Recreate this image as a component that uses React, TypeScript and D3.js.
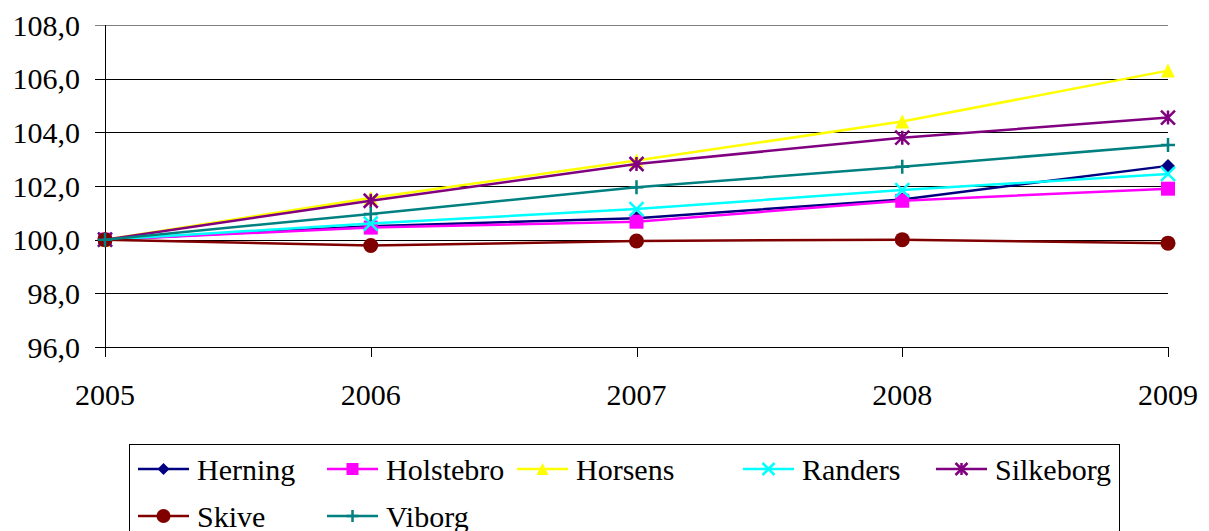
import React, { useEffect, useRef } from 'react';
import * as d3 from 'd3';

const years = ['2005', '2006', '2007', '2008', '2009'];
const herning = [100.0, 100.5, 100.8, 101.5, 102.75];
const holstebro = [100.0, 100.45, 100.67, 101.45, 101.9];
const horsens = [100.0, 101.55, 102.95, 104.4, 106.3];
const randers = [100.0, 100.6, 101.14, 101.85, 102.45];
const silkeborg = [100.0, 101.45, 102.82, 103.8, 104.55];
const skive = [100.0, 99.78, 99.95, 100.0, 99.87];
const viborg = [100.0, 100.96, 101.95, 102.72, 103.53];
const yTicks = [96, 98, 100, 102, 104, 106, 108];

const series = [
  { name: 'Herning', values: herning, color: '#000080', marker: 'diamond' },
  { name: 'Holstebro', values: holstebro, color: '#FF00FF', marker: 'square' },
  { name: 'Horsens', values: horsens, color: '#FFFF00', marker: 'triangle' },
  { name: 'Randers', values: randers, color: '#00FFFF', marker: 'x' },
  { name: 'Silkeborg', values: silkeborg, color: '#800080', marker: 'star' },
  { name: 'Skive', values: skive, color: '#800000', marker: 'circle' },
  { name: 'Viborg', values: viborg, color: '#008080', marker: 'plus' },
];

const fmt = d3
  .formatLocale({ decimal: ',', thousands: '.', grouping: [3], currency: ['', ''] })
  .format('.1f');

// draw a marker centred at 0,0 into group g
function drawMarker(g: any, type: string, color: string, s: number) {
  const h = s / 2;
  if (type === 'diamond') {
    g.append('path').attr('d', `M0,${-h}L${h},0L0,${h}L${-h},0Z`).attr('fill', color);
  } else if (type === 'square') {
    g.append('rect').attr('x', -h).attr('y', -h).attr('width', s).attr('height', s).attr('fill', color);
  } else if (type === 'triangle') {
    g.append('path').attr('d', `M0,${-h}L${h},${h}L${-h},${h}Z`).attr('fill', color);
  } else if (type === 'circle') {
    g.append('circle').attr('r', h).attr('fill', color);
  } else if (type === 'x') {
    g.append('path')
      .attr('d', `M${-h},${-h}L${h},${h}M${-h},${h}L${h},${-h}`)
      .attr('stroke', color).attr('stroke-width', 2.5);
  } else if (type === 'plus') {
    g.append('path')
      .attr('d', `M0,${-h}L0,${h}M${-h},0L${h},0`)
      .attr('stroke', color).attr('stroke-width', 2.5);
  } else if (type === 'star') {
    g.append('path')
      .attr('d', `M${-h},${-h}L${h},${h}M${-h},${h}L${h},${-h}M0,${-h}L0,${h}`)
      .attr('stroke', color).attr('stroke-width', 2.5);
  }
}

const App = () => {
  const svgRef = useRef<SVGSVGElement>(null);

  useEffect(() => {
    const width = 1209;
    const height = 531;
    const left = 105;
    const right = 1168;
    const top = 25;
    const bottom = 347;

    const svg = d3.select(svgRef.current);
    svg.selectAll('*').remove();
    svg.attr('width', width).attr('height', height);

    const x = d3.scalePoint().domain(years).range([left, right]);
    const y = d3.scaleLinear().domain([96, 108]).range([bottom, top]);

    // gridlines + y ticks
    svg
      .append('g')
      .selectAll('line')
      .data(yTicks)
      .enter()
      .append('line')
      .attr('x1', left - 10)
      .attr('x2', right)
      .attr('y1', (d) => Math.round(y(d)) + 0.5)
      .attr('y2', (d) => Math.round(y(d)) + 0.5)
      .attr('stroke', (d) => (d === 108 ? '#808080' : '#000'))
      .attr('stroke-width', 1);

    svg
      .append('g')
      .selectAll('text')
      .data(yTicks)
      .enter()
      .append('text')
      .attr('x', 80)
      .attr('y', (d) => y(d))
      .attr('dy', '0.35em')
      .attr('text-anchor', 'end')
      .attr('font-size', 30)
      .text((d) => fmt(d));

    // y axis line
    svg
      .append('line')
      .attr('x1', left + 0.5).attr('x2', left + 0.5)
      .attr('y1', top).attr('y2', bottom + 10)
      .attr('stroke', '#000');

    // x ticks
    svg
      .append('g')
      .selectAll('line')
      .data(years)
      .enter()
      .append('line')
      .attr('x1', (d) => Math.round(x(d)!) + 0.5)
      .attr('x2', (d) => Math.round(x(d)!) + 0.5)
      .attr('y1', bottom)
      .attr('y2', bottom + 10)
      .attr('stroke', '#000');

    svg
      .append('g')
      .selectAll('text')
      .data(years)
      .enter()
      .append('text')
      .attr('x', (d) => x(d)!)
      .attr('y', 405)
      .attr('text-anchor', 'middle')
      .attr('font-size', 30)
      .text((d) => d);

    const line = d3
      .line<number>()
      .x((_, i) => x(years[i])!)
      .y((d) => y(d));

    series.forEach((s) => {
      const g = svg.append('g');
      g.append('path')
        .attr('d', line(s.values))
        .attr('fill', 'none')
        .attr('stroke', s.color)
        .attr('stroke-width', 2.5);
      s.values.forEach((v, i) => {
        const m = g.append('g').attr('transform', `translate(${x(years[i])},${y(v)})`);
        drawMarker(m, s.marker, s.color, s.marker === 'circle' ? 15 : 14);
      });
    });

    // legend
    const legend = svg.append('g');
    legend
      .append('rect')
      .attr('x', 129.5)
      .attr('y', 444.5)
      .attr('width', 990)
      .attr('height', 120)
      .attr('fill', 'none')
      .attr('stroke', '#000');

    const colX = [138, 327, 517, 743, 936];
    series.forEach((s, i) => {
      const cx = colX[i % 5];
      const cy = 469 + Math.floor(i / 5) * 47;
      const g = legend.append('g');
      g.append('line')
        .attr('x1', cx).attr('x2', cx + 51)
        .attr('y1', cy).attr('y2', cy)
        .attr('stroke', s.color).attr('stroke-width', 2.5);
      const m = g.append('g').attr('transform', `translate(${cx + 25.5},${cy})`);
      drawMarker(m, s.marker, s.color, s.marker === 'circle' ? 14 : 12);
      g.append('text')
        .attr('x', cx + 59)
        .attr('y', cy + 11)
        .attr('font-size', 30)
        .text(s.name);
    });
  }, []);

  return (
    <svg
      ref={svgRef}
      style={{
        position: 'absolute',
        left: 0,
        top: 0,
        background: '#fff',
        fontFamily: "'Liberation Serif', Tinos, 'Times New Roman', 'DejaVu Serif', serif",
      }}
    ></svg>
  );
};

export default App;
